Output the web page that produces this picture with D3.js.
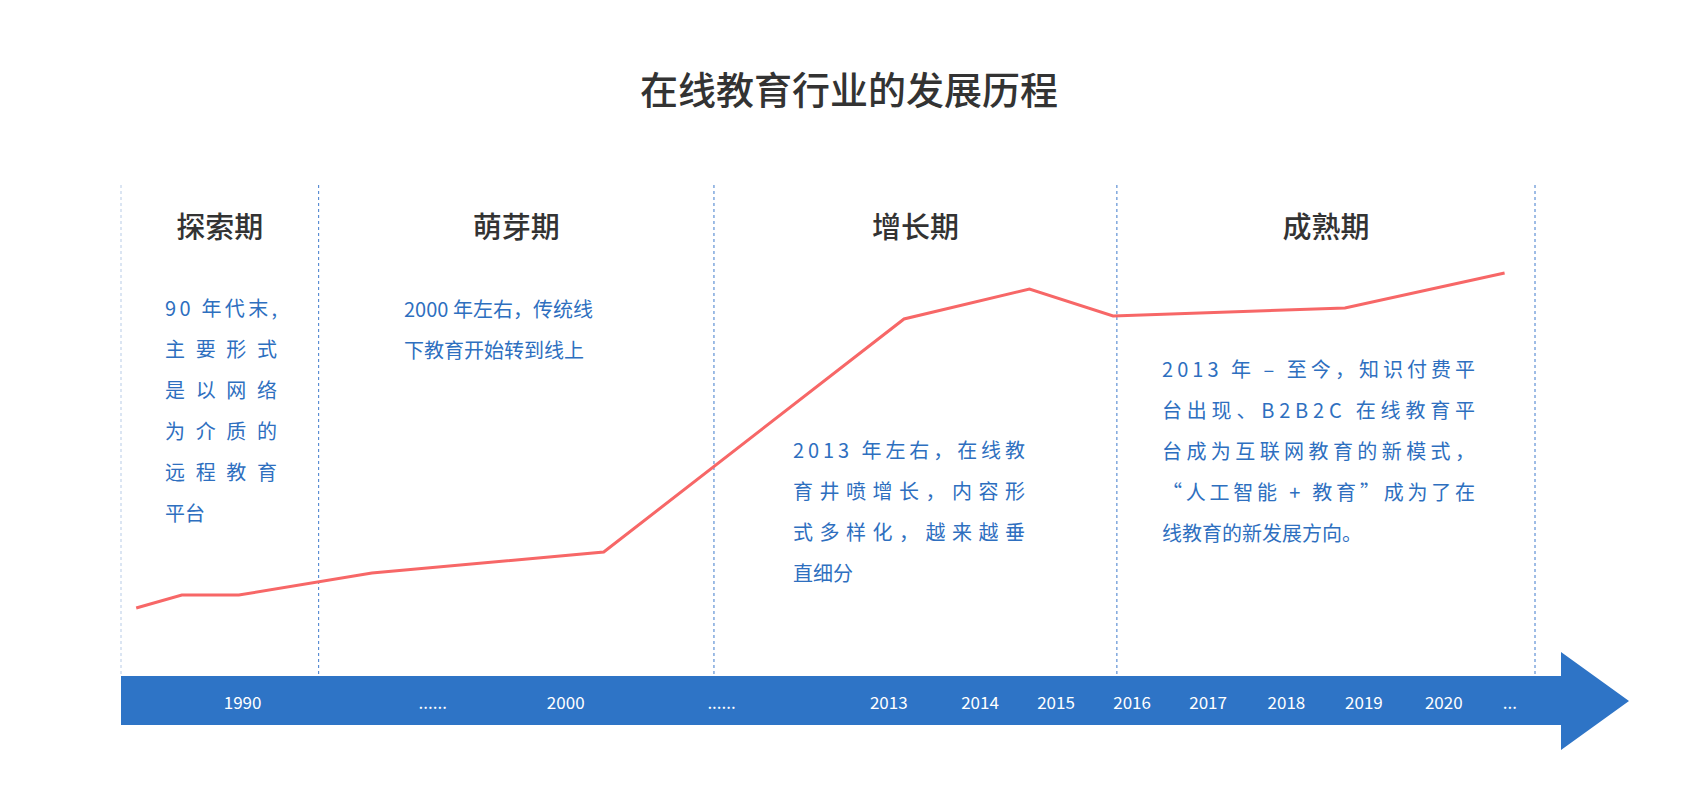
<!DOCTYPE html>
<html>
<head>
<meta charset="utf-8">
<script src="https://cdn.jsdelivr.net/npm/d3@7"></script>
<style>
  body { margin: 0; background: #fff; }
  text { font-family: "Noto Sans CJK SC", "Noto Sans", sans-serif; }
</style>
</head>
<body>
<script>
// tick labels along the arrow, and where they sit on the time axis (axis units)
var tickLabels = ["1990", "......", "2000", "......", "2013", "2014", "2015", "2016", "2017", "2018", "2019", "2020", "..."];
var tickPos = [1.6, 4.1, 5.85, 7.9, 10.1, 11.3, 12.3, 13.3, 14.3, 15.33, 16.35, 17.4, 18.27];

// phase boundaries on the same axis
var phaseBounds = [0, 2.6, 7.8, 13.1, 18.6];
var phaseNames = ["探索期", "萌芽期", "增长期", "成熟期"];

// trend line
var lineT = [0.2, 0.8, 1.55, 3.3, 6.35, 10.3, 11.95, 13.05, 16.1, 18.2];
var lineValues = [8, 11.25, 11.25, 16.75, 22, 80.25, 87.75, 81, 83, 91.75];

// notes per phase
var notes = [
  ["90 年代末,", "主 要 形 式", "是 以 网 络", "为 介 质 的", "远 程 教 育", "平台"],
  ["2000 年左右，传统线", "下教育开始转到线上"],
  ["2013 年左右，在线教", "育井喷增长，内容形", "式多样化，越来越垂", "直细分"],
  ["2013 年 – 至今，知识付费平", "台出现、B2B2C 在线教育平", "台成为互联网教育的新模式，", "“人工智能 + 教育”成为了在", "线教育的新发展方向。"]
];
var noteLeft = [165, 404, 793, 1162];
var noteTop = [316, 317, 458, 377];
var noteWidth = [112, 0, 232, 313];

var width = 1702, height = 794;
var svg = d3.select("body").append("svg").attr("width", width).attr("height", height);

var x = d3.scaleLinear().domain([0, 18.6]).range([121, 1535]);
var y = d3.scaleLinear().domain([0, 100]).range([640, 240]);

// title
svg.append("text").attr("x", 849).attr("y", 104).attr("text-anchor", "middle")
  .attr("font-size", 38).attr("font-weight", 500).attr("fill", "#333")
  .text("在线教育行业的发展历程");

// arrow
var barTop = 676, barBot = 725;
svg.append("path")
  .attr("d", "M" + x(0) + "," + barTop + "H1561V652L1629,701L1561,750V" + barBot + "H" + x(0) + "Z")
  .attr("fill", "#2e74c6");

svg.selectAll(".tick").data(tickLabels).enter().append("text")
  .attr("x", function(d, i) { return x(tickPos[i]); })
  .attr("y", 709).attr("text-anchor", "middle")
  .attr("font-size", 17).attr("fill", "#fff")
  .text(function(d) { return d; });

// dashed dividers
svg.selectAll(".div").data(phaseBounds).enter().append("line")
  .attr("x1", function(d) { return x(d); }).attr("x2", function(d) { return x(d); })
  .attr("y1", 185).attr("y2", barTop)
  .attr("stroke", function(d, i) { return i == 0 ? "#b7cbe6" : "#3f7bcc"; })
  .attr("stroke-width", 1).attr("stroke-dasharray", "3,3");

// phase titles
svg.selectAll(".phase").data(phaseNames).enter().append("text")
  .attr("x", function(d, i) { return (x(phaseBounds[i]) + x(phaseBounds[i + 1])) / 2 + (i == 0 ? 0 : 0); })
  .attr("y", 238).attr("text-anchor", "middle")
  .attr("font-size", 29).attr("font-weight", 500).attr("fill", "#333")
  .text(function(d) { return d; });

// notes
notes.forEach(function(lines, i) {
  lines.forEach(function(s, j) {
    var t = svg.append("text").attr("x", noteLeft[i]).attr("y", noteTop[i] + j * 41)
      .attr("font-size", 20).attr("fill", "#2e6fbf").text(s);
    if (noteWidth[i] && j < lines.length - 1) {
      t.attr("textLength", noteWidth[i]).attr("lengthAdjust", "spacing");
    }
  });
});

// trend line
var line = d3.line()
  .x(function(d, i) { return x(lineT[i]); })
  .y(function(d) { return y(d); });
svg.append("path").datum(lineValues).attr("d", line)
  .attr("fill", "none").attr("stroke", "#f76767").attr("stroke-width", 3);
</script>
</body>
</html>
